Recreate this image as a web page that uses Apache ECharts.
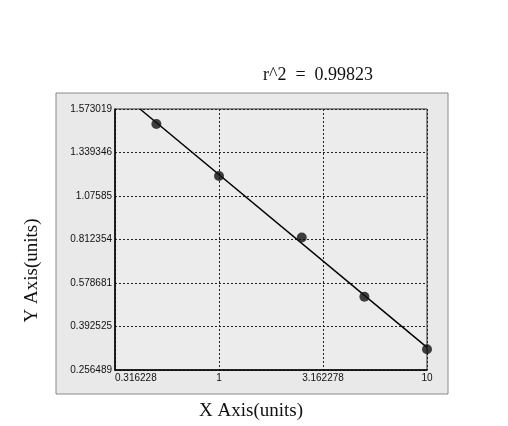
<!DOCTYPE html>
<html>
<head>
<meta charset="utf-8">
<script src="https://cdn.jsdelivr.net/npm/echarts@6/dist/echarts.min.js"></script>
<style>
  html, body { margin: 0; padding: 0; background: #fff; }
  #chart { width: 508px; height: 426px; }
</style>
</head>
<body>
<div id="chart"></div>
<script>
// standard points (x in units, y as position on the evenly spaced y ticks)
const xValues = [0.5, 1, 2.5, 5, 10]
const yValues = [5.655, 4.46, 3.046, 1.685, 0.476]

const xTickValues = [0.316228, 1, 3.162278, 10]
const xTickLabels = ['0.316228', '1', '3.162278', '10']
const yTickLabels = ['0.256489', '0.392525', '0.578681', '0.812354', '1.07585', '1.339346', '1.573019']

const rSquared = '0.99823'

// least squares fit of y against log10(x)
function fitLine() {
  const lx = xValues.map((v) => Math.log10(v))
  const n = lx.length
  const mx = lx.reduce((a, b) => a + b, 0) / n
  const my = yValues.reduce((a, b) => a + b, 0) / n
  let sxy = 0
  let sxx = 0
  for (let i = 0; i < n; i++) {
    sxy += (lx[i] - mx) * (yValues[i] - my)
    sxx += (lx[i] - mx) * (lx[i] - mx)
  }
  const slope = sxy / sxx
  const intercept = my - slope * mx
  const yTop = yTickLabels.length - 1
  const xStart = Math.pow(10, (yTop - intercept) / slope)
  const xEnd = xTickValues[xTickValues.length - 1]
  return [
    [xStart, yTop],
    [xEnd, intercept + slope * Math.log10(xEnd)]
  ]
}

function xLabel(v) {
  let best = 0
  xTickValues.forEach((t, i) => {
    if (Math.abs(Math.log10(t) - Math.log10(v)) < Math.abs(Math.log10(xTickValues[best]) - Math.log10(v))) best = i
  })
  return xTickLabels[best]
}

const chart = echarts.init(document.getElementById('chart'))
chart.setOption({
  backgroundColor: '#ffffff',
  animation: false,
  graphic: [
    {
      type: 'rect',
      z: -10,
      shape: { x: 56, y: 93, width: 392, height: 301 },
      style: { fill: '#e9e9e9', stroke: '#8a8a8a', lineWidth: 1 }
    }
  ],
  title: {
    text: 'r^2  =  ' + rSquared,
    left: 258,
    top: 61,
    textStyle: { fontFamily: 'Liberation Serif', fontSize: 18, fontWeight: 'normal', color: '#111' }
  },
  grid: {
    left: 115,
    top: 109,
    width: 312,
    height: 261,
    show: true,
    backgroundColor: '#ececec',
    borderColor: '#333',
    borderWidth: 1
  },
  xAxis: {
    type: 'log',
    logBase: Math.sqrt(10),
    min: xTickValues[0],
    max: xTickValues[xTickValues.length - 1],
    name: 'X Axis(units)',
    nameLocation: 'middle',
    nameGap: 32,
    nameTextStyle: { fontFamily: 'Liberation Serif', fontSize: 19, color: '#111', padding: [0, 40, 0, 0] },
    axisLine: { show: true, lineStyle: { color: '#000', width: 1.5 } },
    axisTick: { show: false },
    axisLabel: {
      formatter: xLabel,
      fontFamily: 'Liberation Sans',
      fontSize: 10,
      color: '#111',
      margin: 3,
      alignMinLabel: 'left',
      alignMaxLabel: 'center'
    },
    splitLine: { show: true, lineStyle: { color: '#222', type: [2, 2], width: 1 } }
  },
  yAxis: {
    type: 'value',
    min: 0,
    max: yTickLabels.length - 1,
    interval: 1,
    name: 'Y Axis(units)',
    nameLocation: 'middle',
    nameGap: 73,
    nameTextStyle: { fontFamily: 'Liberation Serif', fontSize: 19, color: '#111', padding: [0, 62, 0, 0] },
    axisLine: { show: true, lineStyle: { color: '#000', width: 1.5 } },
    axisTick: { show: false },
    axisLabel: {
      formatter: (v) => yTickLabels[Math.round(v)],
      fontFamily: 'Liberation Sans',
      fontSize: 10,
      color: '#111',
      margin: 3
    },
    splitLine: { show: true, lineStyle: { color: '#222', type: [2, 2], width: 1 } }
  },
  series: [
    {
      type: 'line',
      data: fitLine(),
      symbol: 'none',
      lineStyle: { color: '#000', width: 1.5 },
      z: 2
    },
    {
      type: 'scatter',
      data: xValues.map((x, i) => [x, yValues[i]]),
      symbol: 'circle',
      symbolSize: 10,
      itemStyle: { color: '#111' },
      z: 3
    }
  ]
})
</script>
</body>
</html>
